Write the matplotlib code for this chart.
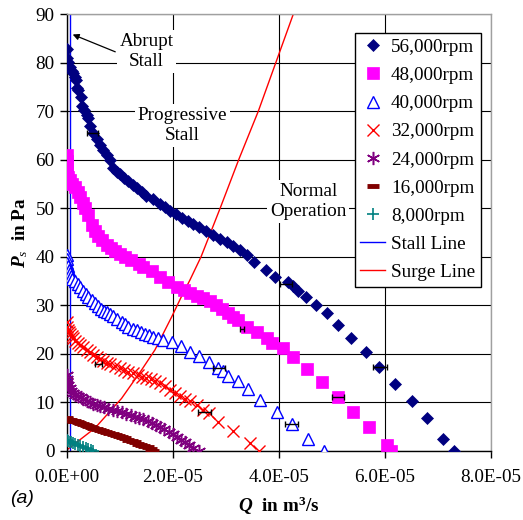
import numpy as np
import matplotlib
matplotlib.use("Agg")
import matplotlib.pyplot as plt
from matplotlib.ticker import FuncFormatter, MultipleLocator

plt.rcParams['font.family'] = ['Liberation Serif', 'DejaVu Serif']
plt.rcParams['mathtext.fontset'] = 'custom'
plt.rcParams['mathtext.rm'] = 'Liberation Serif'
plt.rcParams['mathtext.it'] = 'Liberation Serif:italic'
plt.rcParams['mathtext.bf'] = 'Liberation Serif:bold'
plt.rcParams['mathtext.bfit'] = 'Liberation Serif:bold:italic'

# flow rate Q in units of 1e-5 m^3/s, static pressure P_s in Pa
q56 = [0.0, 0.0, 0.02, 0.06, 0.10, 0.12, 0.16, 0.18, 0.19, 0.21, 0.26, 0.28, 0.33, 0.37,
       0.40, 0.43, 0.50, 0.56, 0.62, 0.68, 0.75, 0.81, 0.87, 0.94, 1.00, 1.08, 1.16, 1.24,
       1.32, 1.41, 1.50, 1.62, 1.75, 1.85, 1.94, 2.05, 2.17, 2.28, 2.38, 2.50, 2.63, 2.76,
       2.89, 3.02, 3.14, 3.26, 3.39, 3.53, 3.75, 3.92, 4.17, 4.26, 4.36, 4.50, 4.70, 4.90,
       5.11, 5.36, 5.64, 5.89, 6.19, 6.50, 6.79, 7.10, 7.30]
p56 = [82.7, 81.0, 80.2, 79.1, 78.2, 77.8, 77.0, 76.4, 74.7, 74.3, 73.0, 71.0, 70.2, 69.3,
       68.5, 67.0, 65.5, 64.2, 63.0, 62.0, 61.0, 59.9, 58.3, 57.5, 57.0, 56.2, 55.6, 54.8,
       54.2, 53.4, 52.6, 51.8, 50.8, 50.2, 49.4, 48.7, 48.0, 47.3, 46.7, 46.1, 45.3, 44.5,
       43.7, 43.0, 42.3, 41.3, 40.4, 39.0, 37.3, 35.8, 34.7, 34.0, 33.0, 31.8, 30.0, 28.4,
       26.0, 23.3, 20.3, 17.2, 13.8, 10.2, 6.7, 2.5, 0.0]

q48 = [0.0, 0.0, 0.0, 0.0, 0.02, 0.05, 0.10, 0.15, 0.20, 0.25, 0.30, 0.34, 0.40, 0.47,
       0.53, 0.59, 0.67, 0.75, 0.83, 0.91, 1.00, 1.09, 1.20, 1.35, 1.44, 1.60, 1.75, 1.90,
       2.07, 2.20, 2.32, 2.45, 2.57, 2.70, 2.82, 2.93, 3.04, 3.14, 3.23, 3.39, 3.58, 3.77,
       3.86, 4.08, 4.27, 4.52, 4.81, 5.11, 5.39, 5.70, 6.04, 6.11]
p48 = [61.0, 59.8, 58.5, 57.2, 56.5, 55.8, 55.0, 54.4, 53.4, 52.2, 51.0, 50.0, 48.5, 46.5,
       45.2, 44.3, 43.4, 42.5, 41.8, 41.2, 40.6, 40.0, 39.4, 38.5, 37.8, 37.0, 35.8, 34.8,
       33.8, 33.2, 32.6, 32.0, 31.4, 30.8, 30.1, 29.2, 28.4, 27.6, 27.0, 25.6, 24.4, 23.2,
       22.2, 21.2, 19.3, 16.8, 14.1, 11.1, 8.1, 5.0, 1.2, 0.0]

q40 = [0.0, 0.0, 0.0, 0.02, 0.03, 0.05, 0.08, 0.10, 0.15, 0.20, 0.25, 0.31, 0.36, 0.40,
       0.47, 0.53, 0.59, 0.65, 0.70, 0.75, 0.81, 0.87, 0.95, 1.03, 1.10, 1.16, 1.24, 1.32,
       1.40, 1.47, 1.55, 1.63, 1.72, 1.82, 1.98, 2.15, 2.32, 2.50, 2.68, 2.85, 2.95, 3.04,
       3.22, 3.42, 3.65, 3.96, 4.24, 4.55, 4.84]
p40 = [40.4, 39.6, 38.7, 38.0, 37.3, 36.6, 36.0, 35.4, 35.0, 34.4, 33.8, 33.0, 32.3, 31.8,
       31.0, 30.4, 29.8, 29.3, 28.9, 28.6, 28.2, 27.8, 27.2, 26.6, 26.1, 25.6, 25.2, 24.8,
       24.4, 24.1, 23.8, 23.5, 23.2, 22.8, 22.5, 21.6, 20.4, 19.6, 18.3, 17.0, 16.5, 15.5,
       14.3, 12.7, 10.4, 8.1, 5.5, 2.4, 0.0]

q32 = [0.0, 0.0, 0.02, 0.04, 0.06, 0.09, 0.12, 0.16, 0.20, 0.25, 0.31, 0.37, 0.43, 0.50,
       0.56, 0.62, 0.68, 0.75, 0.82, 0.90, 1.00, 1.08, 1.16, 1.25, 1.34, 1.42, 1.50, 1.58,
       1.66, 1.75, 1.85, 1.94, 2.04, 2.13, 2.22, 2.32, 2.45, 2.57, 2.67, 2.85, 3.14, 3.45, 3.63]
p32 = [26.6, 25.6, 25.0, 24.5, 24.0, 23.6, 23.2, 22.7, 22.3, 21.9, 21.4, 20.8, 20.3, 19.8,
       19.3, 18.9, 18.5, 18.2, 17.8, 17.4, 17.0, 16.7, 16.3, 16.0, 15.7, 15.3, 15.0, 14.7,
       14.3, 13.9, 13.3, 12.6, 11.9, 11.2, 10.7, 10.2, 9.5, 8.5, 7.7, 6.0, 4.0, 1.6, 0.0]

q24 = [0.0, 0.0, 0.0, 0.02, 0.05, 0.08, 0.12, 0.16, 0.21, 0.26, 0.31, 0.37, 0.43, 0.50,
       0.56, 0.62, 0.70, 0.78, 0.86, 0.94, 1.03, 1.12, 1.20, 1.28, 1.36, 1.44, 1.52, 1.60,
       1.68, 1.76, 1.84, 1.92, 2.00, 2.08, 2.16, 2.22, 2.30, 2.38, 2.49]
p24 = [15.6, 14.8, 14.2, 13.6, 13.0, 12.4, 12.0, 11.6, 11.3, 11.0, 10.6, 10.3, 10.0, 9.7,
       9.5, 9.2, 9.0, 8.7, 8.4, 8.2, 7.9, 7.6, 7.3, 7.0, 6.7, 6.5, 6.2, 5.8,
       5.4, 5.0, 4.5, 3.9, 3.5, 2.8, 2.2, 1.8, 1.3, 0.6, 0.0]

q16 = [0.0, 0.0, 0.03, 0.07, 0.11, 0.15, 0.20, 0.25, 0.30, 0.35, 0.40, 0.45, 0.50, 0.56,
       0.62, 0.68, 0.74, 0.80, 0.86, 0.92, 0.98, 1.04, 1.10, 1.16, 1.22, 1.28, 1.34, 1.40,
       1.46, 1.52, 1.58, 1.63]
p16 = [6.7, 6.5, 6.4, 6.3, 6.2, 6.1, 5.9, 5.7, 5.5, 5.3, 5.2, 5.0, 4.8, 4.5,
       4.3, 4.1, 3.9, 3.7, 3.4, 3.2, 3.0, 2.8, 2.6, 2.3, 2.1, 1.8, 1.5, 1.3,
       1.0, 0.7, 0.3, 0.0]

q8 = [0.0, 0.02, 0.05, 0.08, 0.12, 0.16, 0.20, 0.25, 0.30, 0.35, 0.40, 0.45, 0.50]
p8 = [2.3, 2.1, 1.9, 1.8, 1.6, 1.4, 1.2, 1.0, 0.8, 0.6, 0.4, 0.2, 0.0]

# stall and surge boundaries
stall_q = [0.06, 0.06]
stall_p = [0.0, 90.0]
surge_q = [0.0, 0.53, 1.03, 1.41, 1.66, 1.98, 2.16, 2.32, 2.53, 2.89, 3.24, 3.61, 3.94, 4.27]
surge_p = [0.2, 4.7, 10.8, 16.7, 20.8, 27.7, 31.8, 35.2, 40.0, 50.0, 60.0, 70.0, 80.0, 90.0]

# measurement uncertainty on Q at a few points
err_q = [0.48, 4.13, 5.90, 3.30, 5.11, 2.87, 4.24, 0.60, 2.60]
err_p = [65.4, 34.3, 17.2, 25.1, 11.1, 17.0, 5.5, 17.9, 7.9]
err_dq = [0.11, 0.11, 0.13, 0.04, 0.12, 0.11, 0.12, 0.07, 0.12]

E5 = 1e-5
fs = 13.8

fig = plt.figure(figsize=(5.23, 5.20), dpi=100)
ax = fig.add_axes([0.128, 0.133, 0.811, 0.840])

ax.plot(np.array(q56) * E5, p56, 'D', color='#000080', ms=6.2, mew=0.5, label='56,000rpm', zorder=3)
ax.plot(np.array(q48) * E5, p48, 's', color='#FF00FF', ms=8, mew=0.5, label='48,000rpm', zorder=3)
ax.plot(np.array(q40) * E5, p40, '^', color='#0000FF', mfc='white', ms=8.5, mew=1.0, label='40,000rpm', zorder=3)
ax.plot(np.array(q32) * E5, p32, 'x', color='#FF0000', ms=8.5, mew=1.0, label='32,000rpm', zorder=3)
ax.plot(np.array(q24) * E5, p24, marker=(6, 2, 0), ls='none', color='#800080', ms=9.5, mew=1.1,
        label='24,000rpm', zorder=3)
ax.plot(np.array(q16) * E5, p16, '_', color='#800000', ms=9, mew=3.5, label='16,000rpm', zorder=3)
ax.plot(np.array(q8) * E5, p8, '+', color='#008080', ms=8, mew=1.2, label='8,000rpm', zorder=3)
ax.plot(np.array(stall_q) * E5, stall_p, '-', color='#0000FF', lw=1.0, label='Stall Line', zorder=2.5)
ax.plot(np.array(surge_q) * E5, surge_p, '-', color='#FF0000', lw=1.0, label='Surge Line', zorder=2.5)

ax.errorbar(np.array(err_q) * E5, err_p, xerr=np.array(err_dq) * E5, fmt='none',
            ecolor='black', elinewidth=1.0, capsize=2.5, capthick=1.0, zorder=4)

ax.set_xlim(0, 8e-5)
ax.set_ylim(0, 90)
ax.xaxis.set_major_locator(MultipleLocator(2e-5))
ax.yaxis.set_major_locator(MultipleLocator(10))
ax.xaxis.set_major_formatter(FuncFormatter(lambda v, pos: f"{v:.1E}"))
ax.tick_params(labelsize=fs, direction='out', length=5, width=1, pad=4, colors='black')
ax.tick_params(axis='x', pad=8)
ax.grid(True, color='black', lw=0.8, zorder=0)
ax.set_axisbelow(True)

for side in ('left', 'bottom'):
    ax.spines[side].set_color('black')
    ax.spines[side].set_linewidth(1.0)
for side in ('top', 'right'):
    ax.spines[side].set_color('#a0a0a0')
    ax.spines[side].set_linewidth(1.0)

ax.set_xlabel(r"$\mathbfit{Q}$  in m$^\mathbf{3}$/s", fontsize=fs, fontweight='bold', labelpad=6)
ax.set_ylabel(r"$\mathbfit{P}_{\mathit{s}}$  in Pa", fontsize=fs, fontweight='bold', labelpad=4)

box = dict(facecolor='white', edgecolor='none', pad=2)
ax.text(1.5e-5, 82.3, "Abrupt\nStall", ha='center', va='center', fontsize=fs,
        linespacing=1.25, bbox=box, zorder=2)
ax.annotate("", xy=(0.06e-5, 86.0), xytext=(0.96e-5, 82.0),
            arrowprops=dict(arrowstyle='-|>', color='black', lw=0.9, mutation_scale=9), zorder=5)
ax.text(2.18e-5, 67.0, "Progressive\nStall", ha='center', va='center', fontsize=fs,
        linespacing=1.25, bbox=box, zorder=2)
ax.text(4.55e-5, 51.4, "Normal\nOperation", ha='center', va='center', fontsize=fs,
        linespacing=1.25, bbox=box, zorder=2)

leg = ax.legend(loc='upper right', bbox_to_anchor=(0.976, 0.957), borderaxespad=0,
                fontsize=fs, frameon=True, fancybox=False, framealpha=1, edgecolor='black',
                labelspacing=0.56, handlelength=1.3, handletextpad=0.3, borderpad=0.3)
leg.get_frame().set_linewidth(1.0)
leg.set_zorder(6)

fig.text(0.019, 0.042, "(a)", fontsize=14, style='italic', family='Liberation Sans', va='center')

fig.savefig("out.png", dpi=100)
